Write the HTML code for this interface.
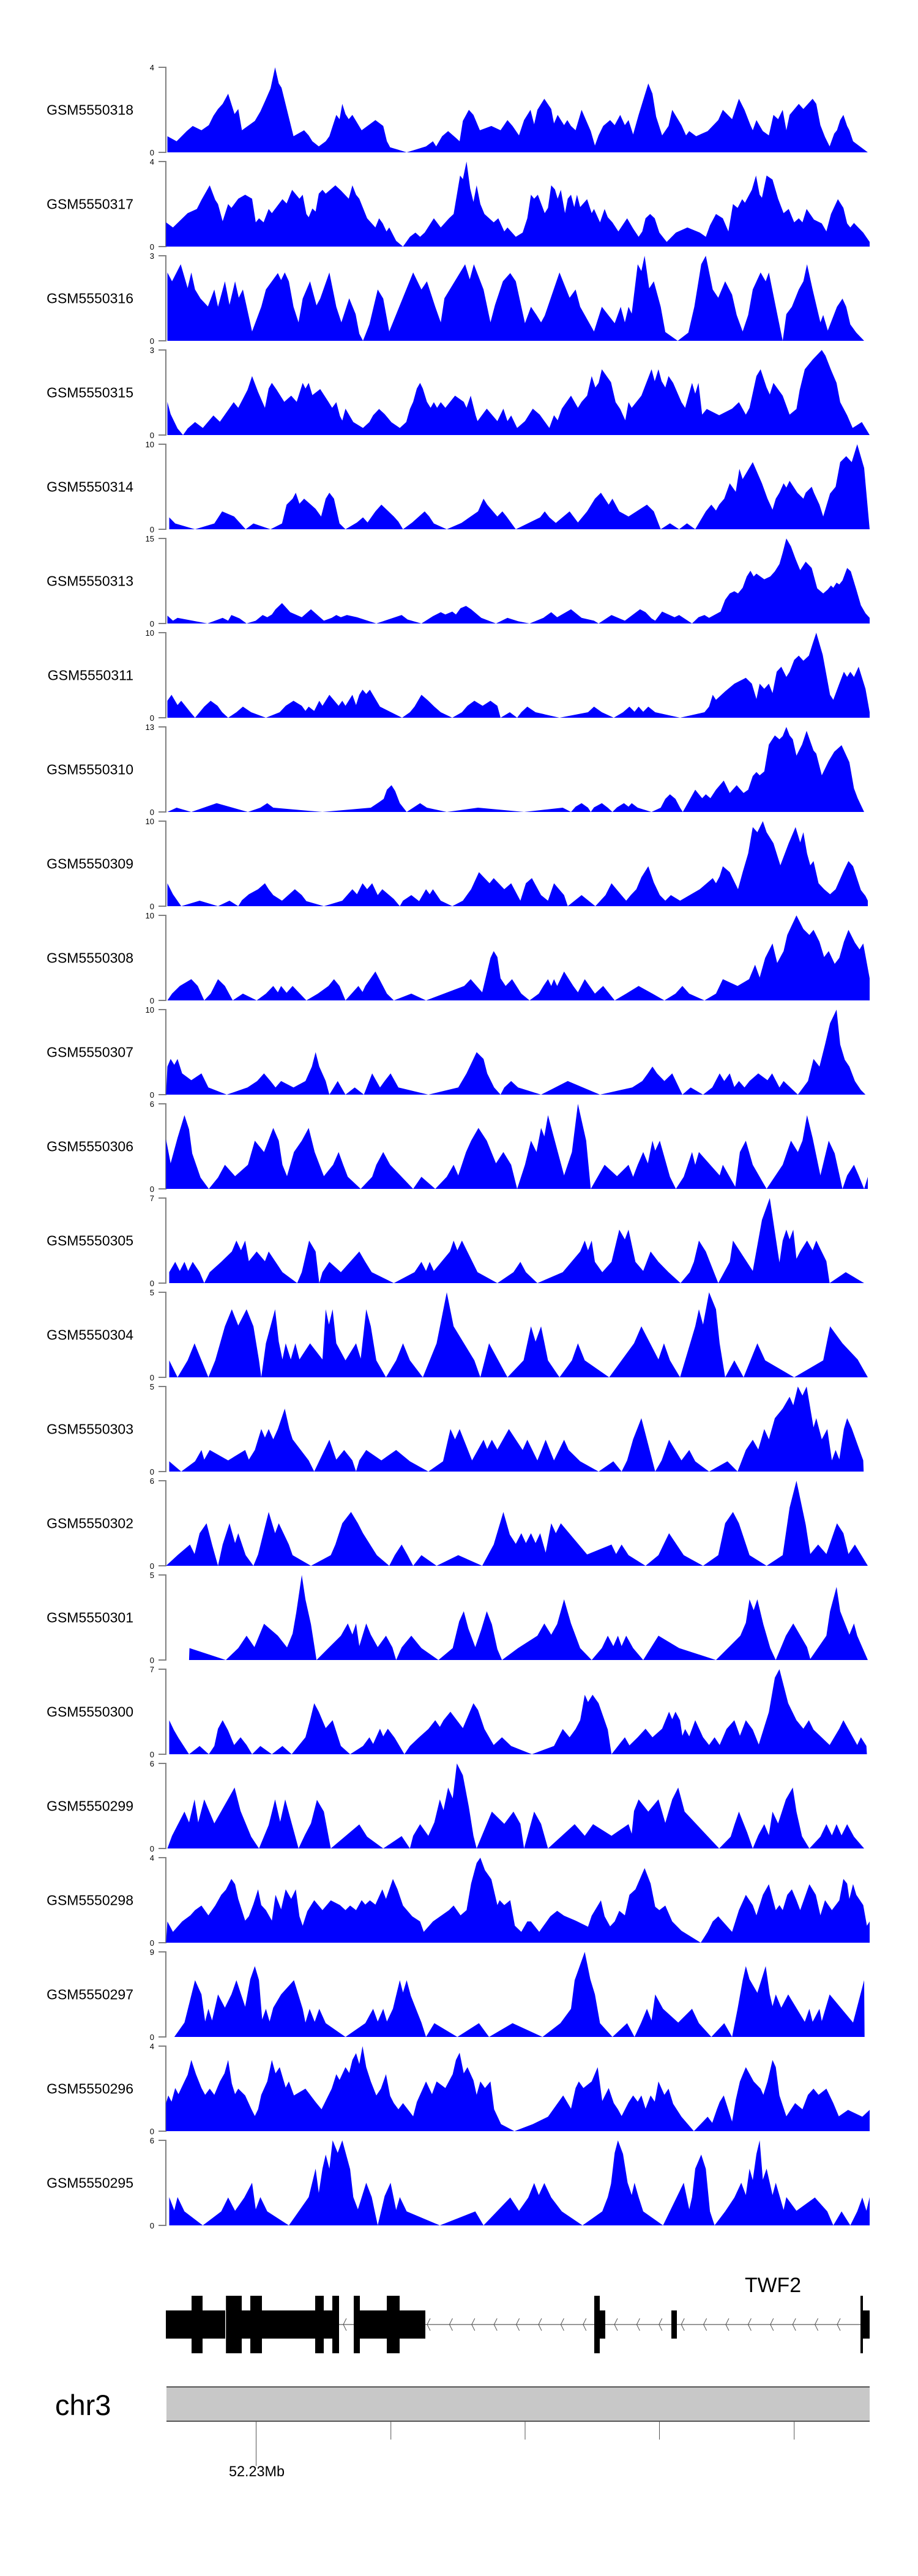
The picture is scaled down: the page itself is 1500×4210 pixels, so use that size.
<!DOCTYPE html>
<html><head><meta charset="utf-8"><title>Coverage tracks - TWF2</title>
<style>
html,body{margin:0;padding:0;background:#fff;}
svg{display:block;font-family:"Liberation Sans",Arial,sans-serif;}
</style></head>
<body>
<svg id="chart" width="1500" height="4210" viewBox="0 0 1500 4210" xmlns="http://www.w3.org/2000/svg">
<rect x="0" y="0" width="1500" height="4210" fill="#fff"/>
<g id="tracks"></g>
<g id="gene"></g>
<g id="ideo"></g>
</svg>
<script>
const sampleNames = ["GSM5550318","GSM5550317","GSM5550316","GSM5550315","GSM5550314","GSM5550313","GSM5550311","GSM5550310","GSM5550309","GSM5550308","GSM5550307","GSM5550306","GSM5550305","GSM5550304","GSM5550303","GSM5550302","GSM5550301","GSM5550300","GSM5550299","GSM5550298","GSM5550297","GSM5550296","GSM5550295"];
const yMaxTicks = [4,4,3,3,10,15,10,13,10,10,10,6,7,5,5,6,5,7,6,4,9,4,6];
const genomicDomain = [0,1544];
const axisTickLabels = ["52.23Mb"];
const geneLabel = "TWF2";
const chromLabel = "chr3";

const t318=[[18,.76],[38,.52],[60,1.0],[73,1.24],[92,1.04],[108,1.28],[118,1.72],[128,2.04],[138,2.28],[150,2.76],[164,1.8],[172,2.04],[180,1.04],[208,1.48],[220,1.92],[230,2.4],[242,3.0],[252,4.0],[260,3.24],[266,3.04],[292,.76],[315,1.04],[325,.8],[333,.52],[347,.28],[362,.52],[370,.76],[385,1.76],[392,1.56],[398,2.28],[405,1.8],[412,1.56],[420,1.76],[440,1.04],[470,1.52],[487,1.24],[495,.52],[502,.24],[520,.12],[538,0],[580,.28],[595,.52],[602,.28],[615,.76],[628,1.0],[645,.68],[653,.52],[660,1.48],[673,2.0],[683,1.76],[697,1.04],[722,1.24],[742,1.04],[757,1.52],[768,1.24],[782,.8],[793,1.52],[807,2.0],[815,1.32],[822,2.0],[837,2.52],[852,2.04],[858,1.36],[866,1.76],[880,1.28],[887,1.52],[895,1.24],[905,1.04],[918,2.0],[938,1.0],[947,.32],[955,.8],[965,1.24],[980,1.52],[990,1.28],[1002,1.76],[1012,1.28],[1020,1.52],[1030,.84],[1042,1.76],[1063,3.24],[1072,2.76],[1080,1.68],[1093,.8],[1107,1.24],[1115,2.0],[1135,1.28],[1145,.8],[1152,1.0],[1167,.76],[1192,1.0],[1215,1.52],[1225,2.0],[1245,1.56],[1260,2.52],[1272,2.0],[1285,1.28],[1290,1.04],[1298,1.52],[1312,1.0],[1325,.8],[1335,1.76],[1345,1.56],[1355,2.0],[1363,1.04],[1370,1.76],[1390,2.28],[1400,2.04],[1420,2.52],[1428,2.28],[1437,1.28],[1447,.72],[1457,.28],[1467,.88],[1473,1.04],[1480,1.52],[1487,1.76],[1495,1.24],[1500,1.04],[1508,.52],[1540,0]];
const t317=[[15,1.14],[30,.9],[62,1.57],[82,1.77],[92,2.2],[110,2.88],[122,2.2],[128,2.0],[138,1.19],[150,2.0],[157,1.82],[172,2.25],[187,2.44],[202,2.25],[210,1.14],[217,1.33],[227,1.14],[238,1.77],[245,1.57],[268,2.23],[277,2.03],[289,2.67],[305,2.25],[312,2.44],[320,1.53],[325,1.38],[333,1.79],[340,1.65],[347,2.49],[355,2.67],[362,2.49],[383,2.88],[395,2.64],[412,2.25],[420,2.88],[428,2.44],[435,2.25],[452,1.33],[470,.9],[478,1.33],[486,1.09],[494,.71],[500,.9],[515,.27],[530,0],[545,.46],[557,.66],[567,.46],[577,.66],[597,1.33],[612,.9],[630,1.33],[640,1.53],[654,3.34],[660,3.17],[668,4.0],[676,2.73],[683,2.1],[690,2.88],[698,2.0],[707,1.53],[727,1.14],[737,1.33],[750,.71],[757,.9],[775,.46],[790,.66],[800,1.33],[808,2.44],[815,2.25],[823,2.44],[838,1.57],[845,1.82],[852,2.88],[860,2.69],[866,2.25],[873,2.67],[882,1.57],[888,2.25],[895,2.44],[902,1.86],[908,2.44],[915,1.86],[930,2.23],[940,1.57],[945,1.77],[958,1.14],[968,1.77],[975,1.38],[985,1.14],[998,.71],[1017,1.33],[1030,.85],[1042,.46],[1050,.71],[1057,1.33],[1067,1.53],[1077,1.33],[1087,.66],[1103,.22],[1123,.66],[1148,.9],[1175,.66],[1188,.46],[1197,1.0],[1210,1.53],[1225,1.33],[1237,.71],[1247,2.0],[1257,1.82],[1267,2.23],[1273,2.06],[1288,2.67],[1297,3.34],[1305,2.44],[1310,2.3],[1320,3.34],[1333,3.15],[1345,2.25],[1357,1.57],[1368,1.77],[1380,1.14],[1390,1.33],[1398,1.14],[1407,1.77],[1423,1.27],[1440,1.09],[1450,.71],[1460,1.53],[1475,2.23],[1487,1.82],[1495,1.09],[1502,.9],[1510,1.11],[1530,.66],[1544,.22]];
const t316=[[18,2.41],[28,2.1],[47,2.7],[62,1.86],[70,2.41],[78,1.81],[90,1.49],[106,1.21],[120,1.81],[128,1.2],[143,2.1],[153,1.27],[165,2.1],[173,1.52],[182,1.81],[202,.33],[222,1.2],[232,1.81],[258,2.39],[265,2.14],[273,2.41],[282,2.1],[292,1.2],[303,.65],[312,1.49],[328,2.1],[342,1.25],[350,1.49],[370,2.41],[385,1.2],[396,.65],[413,1.5],[427,.94],[435,.25],[443,0],[457,.58],[475,1.81],[487,1.49],[500,.33],[552,2.41],[570,1.81],[582,2.1],[600,1.2],[612,.65],[620,1.5],[665,2.7],[675,2.17],[684,2.7],[705,1.81],[720,.65],[730,1.27],[747,2.1],[763,2.39],[775,2.1],[795,.62],[808,1.2],[820,.91],[830,.65],[838,.89],[870,2.41],[892,1.52],[905,1.81],[915,1.2],[945,.33],[962,1.2],[990,.62],[1003,1.2],[1012,.65],[1020,1.2],[1027,.96],[1040,2.7],[1048,2.46],[1055,3.0],[1065,1.85],[1075,2.1],[1090,1.2],[1100,.31],[1127,0],[1150,.29],[1163,1.2],[1178,2.7],[1188,3.0],[1203,1.81],[1215,1.52],[1230,2.1],[1245,1.63],[1255,.91],[1268,.33],[1280,.91],[1290,1.81],[1307,2.41],[1318,2.1],[1325,2.41],[1340,1.2],[1355,0],[1363,.94],[1375,1.2],[1390,1.81],[1400,2.1],[1408,2.7],[1420,1.81],[1437,.65],[1443,.91],[1453,.36],[1473,1.2],[1485,1.49],[1493,1.2],[1502,.58],[1515,.29],[1532,0]];
const t315=[[18,1.17],[25,.74],[40,.23],[52,0],[62,.23],[78,.46],[95,.25],[118,.69],[132,.47],[162,1.16],[172,.96],[192,1.59],[202,2.08],[215,1.52],[230,.96],[238,1.64],[245,1.84],[255,1.61],[272,1.17],[287,1.39],[299,1.17],[312,1.84],[318,1.64],[325,1.84],[333,1.41],[350,1.62],[368,1.17],[376,.96],[385,1.16],[393,.67],[398,.51],[405,.93],[422,.46],[443,.25],[457,.46],[465,.7],[478,.92],[490,.74],[505,.45],[523,.25],[537,.46],[545,.92],[552,1.17],[560,1.64],[567,1.84],[573,1.64],[582,1.17],[590,.96],[597,1.16],[604,.96],[612,1.16],[622,.96],[643,1.39],[662,1.17],[668,.96],[677,1.39],[688,.69],[692,.49],[712,.93],[735,.49],[748,.93],[757,.49],[765,.69],[778,.25],[795,.49],[812,.93],[827,.72],[848,.25],[858,.7],[866,.52],[875,.93],[895,1.39],[910,.96],[918,1.17],[930,1.39],[940,2.08],[948,1.68],[955,1.84],[962,2.32],[982,1.86],[992,1.16],[1002,.92],[1013,.52],[1020,1.16],[1027,.96],[1048,1.39],[1070,2.32],[1077,1.9],[1085,2.32],[1092,1.9],[1100,1.68],[1107,2.08],[1117,1.84],[1135,1.16],[1143,.96],[1158,1.84],[1165,1.46],[1172,1.84],[1180,.72],[1190,.92],[1217,.7],[1245,.93],[1260,1.16],[1275,.72],[1283,.96],[1298,2.08],[1307,2.32],[1320,1.68],[1327,1.43],[1335,1.84],[1355,1.39],[1370,.72],[1385,.92],[1392,1.59],[1403,2.32],[1420,2.66],[1440,3.0],[1448,2.8],[1460,2.3],[1472,1.84],[1480,1.16],[1495,.7],[1507,.25],[1527,.46],[1544,0]];
const t314=[[22,1.4],[35,.68],[78,0],[120,.68],[137,2.1],[163,1.5],[188,0],[205,.68],[242,0],[267,.68],[277,2.9],[290,3.6],[297,4.3],[305,3.0],[315,3.6],[340,2.4],[352,1.5],[362,3.6],[370,4.3],[380,3.6],[392,.68],[405,0],[430,.8],[443,1.4],[453,.8],[470,2.1],[483,2.9],[510,1.5],[520,.9],[530,0],[550,.8],[577,2.1],[587,1.5],[597,.68],[625,0],[657,.75],[693,2.1],[705,3.6],[713,2.9],[735,1.5],[746,2.1],[755,1.5],[775,0],[828,1.4],[838,2.1],[848,1.4],[862,.75],[892,2.1],[910,.8],[930,2.1],[947,3.6],[960,4.3],[977,2.9],[985,3.6],[1000,2.1],[1020,1.5],[1060,2.9],[1075,2.1],[1090,0],[1110,.7],[1130,0],[1147,.7],[1165,0],[1188,2.1],[1200,2.9],[1210,2.2],[1217,2.9],[1228,3.6],[1240,5.4],[1253,4.4],[1261,7.1],[1268,5.9],[1290,7.9],[1310,5.4],[1322,3.6],[1333,2.3],[1340,3.6],[1348,4.3],[1357,5.4],[1363,4.9],[1370,5.7],[1387,4.3],[1400,3.6],[1405,4.3],[1418,5.0],[1423,4.3],[1435,2.9],[1443,1.5],[1458,4.2],[1470,5.0],[1480,7.9],[1493,8.6],[1505,7.9],[1517,10],[1532,7.2],[1544,0]];
const t313=[[18,1.4],[30,.5],[40,1.0],[105,0],[138,1.0],[150,.5],[157,1.5],[175,.9],[190,0],[210,.5],[225,1.5],[235,1.1],[245,1.6],[253,2.5],[267,3.6],[285,2.0],[310,1.1],[330,2.5],[358,.5],[375,1.0],[385,1.5],[395,1.1],[408,1.5],[430,1.1],[472,0],[527,1.5],[540,.7],[570,0],[595,1.3],[612,2.0],[622,1.6],[637,2.1],[645,1.6],[655,2.7],[667,3.1],[678,2.5],[700,1.0],[732,0],[757,1.0],[780,.4],[805,0],[835,1.0],[852,2.0],[865,1.1],[895,2.5],[918,1.0],[945,.5],[955,0],[983,1.5],[1012,.5],[1045,2.5],[1057,2.0],[1070,.9],[1078,.5],[1093,2.1],[1120,1.1],[1130,1.5],[1158,0],[1172,1.1],[1185,1.5],[1195,1.0],[1220,2.1],[1230,4.2],[1240,5.3],[1250,5.7],[1258,5.3],[1268,6.3],[1277,8.3],[1285,9.3],[1292,8.3],[1298,8.8],[1315,7.8],[1328,8.3],[1338,9.2],[1348,10.5],[1355,12.5],[1363,15],[1373,13.6],[1383,11.4],[1393,9.4],[1405,10.9],[1418,9.8],[1430,6.2],[1443,5.3],[1453,6.0],[1460,6.7],[1465,6.3],[1472,7.2],[1478,6.9],[1485,7.6],[1495,9.8],[1503,9.2],[1515,6.0],[1525,3.2],[1535,1.8],[1544,1.0]];
const t311=[[18,2.0],[27,2.7],[40,1.5],[48,2.0],[68,.65],[78,0],[98,1.3],[112,2.0],[127,1.4],[137,.65],[150,0],[168,.65],[182,1.3],[200,.65],[232,0],[262,.65],[275,1.4],[292,2.0],[310,1.4],[318,.8],[325,1.3],[337,.8],[348,2.0],[355,1.4],[370,2.7],[390,1.4],[398,2.0],[405,1.4],[420,2.7],[428,1.5],[435,2.7],[442,3.3],[450,2.8],[458,3.3],[480,1.3],[528,0],[545,.65],[555,1.3],[570,2.7],[585,2.0],[598,1.3],[612,.65],[637,0],[658,.65],[670,1.4],[685,2.0],[703,1.4],[720,2.0],[735,1.4],[742,0],[762,.65],[778,0],[787,.65],[800,1.3],[818,.65],[870,0],[932,.65],[945,1.3],[962,.65],[988,0],[1008,.65],[1022,1.3],[1033,.7],[1042,1.3],[1052,.7],[1063,1.3],[1078,.65],[1132,0],[1185,.65],[1195,1.3],[1203,2.7],[1210,2.1],[1230,3.1],[1250,4.0],[1275,4.7],[1288,4.0],[1298,2.2],[1305,4.0],[1315,3.4],[1325,4.0],[1333,2.9],[1342,5.4],[1352,6.0],[1363,4.8],[1370,5.4],[1380,6.8],[1390,7.3],[1400,6.7],[1412,7.3],[1420,8.7],[1428,10],[1442,7.4],[1458,2.7],[1465,2.1],[1478,4.0],[1488,5.4],[1495,4.8],[1502,5.4],[1510,4.8],[1520,6.0],[1535,3.4],[1544,.65]];
const t310=[[18,0],[38,.65],[70,0],[125,1.35],[193,0],[220,.65],[235,1.35],[248,.65],[355,0],[460,.65],[478,1.5],[488,2.0],[495,3.4],[505,4.1],[513,3.2],[523,1.35],[538,0],[567,1.35],[582,.65],[625,0],[693,.65],[793,0],[877,.65],[895,0],[905,.8],[918,1.35],[932,.65],[938,0],[945,.7],[962,1.35],[975,.65],[985,0],[995,.7],[1010,1.35],[1020,.8],[1027,1.35],[1040,.65],[1070,0],[1090,.65],[1100,2.0],[1110,2.7],[1122,2.0],[1132,.65],[1138,0],[1165,3.4],[1180,2.1],[1188,2.7],[1198,2.1],[1210,3.4],[1227,4.8],[1240,2.9],[1255,4.1],[1270,2.9],[1280,3.4],[1290,5.5],[1298,6.1],[1305,5.6],[1315,6.2],[1325,10.3],[1338,11.7],[1348,11.1],[1355,11.6],[1363,13],[1370,11.7],[1377,11.1],[1385,8.6],[1397,10.3],[1407,12.4],[1422,9.4],[1428,8.9],[1440,5.6],[1455,7.8],[1467,9.2],[1483,10.2],[1500,7.6],[1510,3.6],[1518,2.1],[1532,0]];
const t309=[[18,2.7],[30,1.4],[48,0],[88,.65],[128,0],[153,.65],[172,0],[180,.7],[195,1.4],[215,2.0],[230,2.7],[238,2.0],[248,1.3],[267,.65],[295,2.0],[310,1.3],[320,.6],[358,0],[398,.65],[420,2.0],[430,1.4],[442,2.7],[452,2.0],[463,2.7],[475,1.3],[485,2.0],[510,.85],[523,0],[530,.65],[548,1.3],[565,.6],[580,2.0],[588,1.4],[595,2.0],[612,.65],[637,0],[660,.65],[678,2.0],[695,4.0],[718,2.7],[727,3.3],[750,2.0],[765,2.7],[785,.65],[797,2.7],[810,3.3],[830,1.3],[845,.65],[858,2.7],[880,1.3],[888,0],[918,1.3],[948,0],[970,1.3],[983,2.7],[1003,1.4],[1015,.65],[1025,1.3],[1037,2.0],[1048,3.4],[1063,4.7],[1075,2.8],[1088,1.3],[1100,.65],[1112,1.3],[1132,.65],[1175,2.0],[1203,3.3],[1210,2.7],[1218,3.5],[1225,4.7],[1240,4.0],[1258,2.0],[1268,4.0],[1280,6.2],[1290,9.3],[1300,8.7],[1312,10],[1320,8.7],[1335,7.4],[1350,4.8],[1368,7.4],[1383,9.3],[1393,7.5],[1400,8.7],[1408,6.2],[1415,4.8],[1422,5.3],[1433,2.7],[1445,2.0],[1458,1.4],[1470,2.0],[1488,4.2],[1498,5.3],[1508,4.7],[1525,1.9],[1535,1.2],[1540,.65]];
const t308=[[18,0],[28,.8],[45,1.7],[70,2.5],[84,1.7],[98,0],[112,.8],[128,2.5],[143,1.7],[160,0],[182,.8],[212,0],[232,.8],[248,1.7],[258,.95],[265,1.7],[277,.9],[290,1.7],[320,0],[345,.8],[368,1.7],[380,2.5],[392,1.7],[405,0],[433,1.7],[442,1.0],[448,1.7],[470,3.4],[495,.8],[510,0],[548,.8],[580,0],[663,1.7],[677,2.5],[690,1.7],[702,.95],[720,5.0],[727,5.8],[735,5.1],[742,2.6],[753,1.7],[767,2.5],[787,.8],[805,0],[825,.8],[835,1.7],[845,2.5],[852,1.7],[858,2.5],[865,1.7],[880,3.4],[900,1.7],[910,.95],[925,2.5],[947,.8],[965,1.7],[990,0],[1015,.8],[1042,1.7],[1072,.8],[1098,0],[1122,.8],[1137,1.7],[1152,.8],[1185,0],[1210,.8],[1225,2.5],[1257,1.7],[1282,2.5],[1295,4.2],[1305,2.7],[1317,5.0],[1333,6.7],[1343,4.4],[1357,5.8],[1365,7.7],[1385,10],[1400,8.4],[1413,7.7],[1422,8.3],[1435,6.9],[1445,5.1],[1455,5.8],[1468,4.3],[1478,5.0],[1488,6.9],[1498,8.3],[1512,6.8],[1522,6.0],[1530,6.7],[1544,2.6]];
const t307=[[15,0],[18,3.3],[25,4.2],[33,3.5],[40,4.2],[50,2.5],[70,1.7],[92,2.5],[107,.85],[147,0],[192,.85],[213,1.6],[228,2.5],[242,1.6],[253,.85],[265,1.6],[292,.85],[318,1.6],[332,3.3],[340,5.0],[348,3.3],[362,1.6],[370,0],[388,1.6],[405,0],[425,.85],[445,0],[463,2.5],[480,.85],[490,1.6],[503,2.5],[520,.85],[585,0],[650,.85],[668,2.5],[690,5.0],[705,4.2],[713,2.5],[728,.85],[742,0],[750,.85],[765,1.6],[780,.85],[830,0],[888,1.6],[958,0],[1028,.85],[1050,1.6],[1062,2.5],[1072,3.3],[1082,2.5],[1098,1.6],[1115,2.5],[1137,0],[1155,.85],[1182,0],[1202,.85],[1218,2.5],[1228,1.6],[1240,2.5],[1250,.9],[1260,1.6],[1272,.85],[1283,1.6],[1302,2.5],[1322,1.7],[1332,2.5],[1348,.85],[1357,1.6],[1388,0],[1410,1.6],[1422,4.2],[1435,3.3],[1447,5.9],[1458,8.4],[1472,10],[1480,5.9],[1490,4.1],[1500,3.3],[1512,1.6],[1525,.55],[1535,0]];
const t306=[[15,3.5],[25,1.8],[40,3.6],[55,5.2],[65,4.2],[72,2.5],[90,.8],[108,0],[128,.8],[143,1.7],[165,.9],[193,1.7],[208,3.4],[228,2.6],[248,4.3],[260,3.4],[268,1.7],[278,.9],[293,2.6],[310,3.4],[325,4.3],[338,2.6],[358,.9],[378,1.7],[390,2.6],[400,1.7],[410,.85],[438,0],[463,.85],[472,1.7],[487,2.6],[502,1.7],[552,0],[570,.85],[600,0],[625,.85],[640,1.7],[650,.95],[667,2.6],[678,3.4],[694,4.3],[712,3.4],[732,1.8],[748,2.6],[765,1.7],[778,0],[795,1.7],[808,3.4],[820,2.6],[830,4.3],[837,3.7],[845,5.2],[880,.95],[897,2.6],[910,6],[928,3.4],[938,0],[968,1.7],[995,.9],[1020,1.7],[1030,.85],[1040,1.7],[1052,2.6],[1062,1.8],[1072,3.4],[1078,2.7],[1088,3.4],[1110,.85],[1123,0],[1140,.85],[1158,2.6],[1165,1.7],[1173,2.6],[1218,.95],[1225,1.7],[1252,.15],[1262,2.6],[1275,3.4],[1290,1.7],[1320,0],[1355,1.7],[1373,3.4],[1388,2.6],[1398,3.4],[1408,5.2],[1420,3.6],[1437,.95],[1455,3.4],[1468,2.5],[1485,0],[1495,.95],[1510,1.7],[1520,.95],[1532,0],[1540,.85]];
const t305=[[22,.9],[35,1.75],[45,1.0],[55,1.75],[63,1.0],[73,1.75],[88,.9],[98,0],[110,.9],[135,1.75],[158,2.6],[168,3.5],[178,2.7],[187,3.5],[195,1.8],[212,2.6],[230,1.8],[238,2.6],[268,.9],[300,0],[310,.9],[326,3.5],[340,2.6],[348,0],[355,.9],[370,1.75],[395,.9],[435,2.6],[448,1.75],[462,.9],[510,0],[555,.9],[570,1.75],[580,1.0],[588,1.75],[597,1.0],[632,2.6],[640,3.5],[648,2.7],[658,3.5],[692,.9],[735,0],[770,.9],[785,1.75],[797,.9],[822,0],[877,.9],[915,2.6],[925,3.5],[932,2.7],[940,3.5],[947,1.75],[963,.9],[983,1.75],[1000,4.4],[1012,3.6],[1020,4.4],[1035,1.75],[1052,1.0],[1068,2.6],[1085,1.75],[1107,.9],[1133,0],[1153,.9],[1162,1.75],[1173,3.5],[1188,2.6],[1215,0],[1240,1.75],[1247,3.5],[1290,1.0],[1310,5.2],[1327,7],[1348,1.7],[1355,3.5],[1363,4.4],[1370,3.6],[1378,4.4],[1385,2.0],[1393,2.6],[1408,3.5],[1420,2.7],[1428,3.5],[1450,1.8],[1457,0],[1492,.9],[1532,0]];
const t304=[[22,1.0],[40,0],[62,1.0],[77,2.0],[107,0],[122,1.0],[143,3.0],[158,4.0],[172,3.05],[190,4.0],[205,3.0],[217,1.0],[222,0],[232,2.0],[252,4.0],[260,2.1],[268,1.05],[275,2.0],[286,1.05],[296,2.0],[305,1.05],[328,2.0],[355,1.05],[362,4.0],[369,3.1],[377,4.0],[385,2.0],[405,1.0],[428,2.0],[438,1.1],[450,4.0],[460,3.0],[472,1.0],[493,0],[515,1.0],[530,2.0],[545,1.0],[573,0],[603,2.0],[625,5.0],[640,3.0],[685,1.0],[698,0],[717,2.0],[757,0],[792,1.0],[808,3.0],[818,2.1],[830,3.0],[845,1.0],[870,0],[897,1.0],[910,2.0],[925,1.0],[978,0],[1032,2.0],[1048,3.0],[1085,1.05],[1097,2.0],[1110,1.0],[1132,0],[1165,3.0],[1173,4.0],[1182,3.1],[1195,5.0],[1210,4.0],[1218,2.0],[1230,0],[1250,1.0],[1270,0],[1300,2.0],[1317,1.0],[1380,0],[1443,1.0],[1458,3.0],[1485,2.0],[1518,1.05],[1540,0]];
const t303=[[22,.6],[48,0],[78,.6],[92,1.27],[98,.7],[110,1.27],[150,.66],[187,1.27],[195,.7],[208,1.27],[222,2.5],[230,2.0],[238,2.5],[248,1.9],[258,2.5],[273,3.7],[283,2.5],[290,1.9],[325,.66],[337,0],[370,1.87],[385,.7],[402,1.27],[420,.66],[428,0],[435,.66],[450,1.27],[483,.66],[515,1.27],[545,.6],[585,0],[617,.6],[633,2.5],[643,1.9],[653,2.5],[680,.66],[705,1.87],[713,1.33],[723,1.87],[735,1.3],[760,2.5],[790,1.27],[800,1.87],[822,.66],[840,1.87],[858,.66],[880,1.87],[890,1.27],[915,.6],[955,0],[987,.6],[1005,0],[1017,.66],[1030,1.9],[1048,3.14],[1078,0],[1092,.66],[1108,1.87],[1135,.66],[1152,1.27],[1165,.6],[1195,0],[1235,.6],[1257,0],[1275,1.27],[1290,1.87],[1302,1.3],[1315,2.5],[1325,1.9],[1338,3.14],[1355,3.7],[1370,4.4],[1378,3.9],[1388,5.0],[1398,4.47],[1407,5.0],[1422,2.6],[1428,3.14],[1440,1.9],[1452,2.5],[1462,.66],[1470,1.27],[1478,.72],[1488,2.5],[1495,3.14],[1505,2.54],[1530,.66],[1531,0]];
const t302=[[15,0],[40,.75],[67,1.5],[77,.83],[88,2.3],[103,3.0],[115,1.5],[128,0],[138,1.5],[153,3.0],[165,1.6],[172,2.3],[188,.75],[205,0],[215,.8],[238,3.8],[252,2.3],[260,3.0],[282,1.5],[290,.75],[330,0],[373,.75],[383,1.5],[398,3.0],[417,3.8],[432,3.0],[443,2.3],[473,.75],[500,0],[512,.75],[527,1.5],[540,.75],[552,0],[570,.75],[603,0],[650,.75],[702,0],[727,1.5],[748,3.8],[762,2.2],[775,1.55],[787,2.3],[797,1.6],[808,2.3],[818,1.6],[828,2.3],[840,.93],[852,3.0],[862,2.3],[873,3.0],[930,.8],[983,1.5],[993,.83],[1005,1.5],[1020,.75],[1057,0],[1085,.75],[1108,2.3],[1140,.75],[1182,0],[1215,.75],[1230,3.0],[1247,3.8],[1260,3.0],[1283,.75],[1320,0],[1355,.75],[1370,4.1],[1385,6],[1405,2.9],[1415,.83],[1432,1.5],[1450,.83],[1473,3.0],[1487,2.3],[1498,.83],[1512,1.5],[1540,0]];
const t301=[[65,0],[66,.7],[145,0],[172,.7],[190,1.43],[207,.76],[228,2.13],[258,1.43],[278,.74],[290,1.55],[298,2.8],[310,5.0],[318,3.56],[330,2.1],[342,0],[370,.76],[395,1.43],[410,2.15],[420,1.5],[428,2.15],[435,.82],[450,2.15],[460,1.49],[475,.76],[493,1.43],[507,.74],[515,0],[527,.74],[548,1.43],[570,.7],[607,0],[638,.7],[652,2.27],[662,2.87],[672,1.85],[687,.76],[700,1.79],[712,2.87],[723,2.1],[735,.64],[745,0],[780,.7],[822,1.43],[837,2.15],[852,1.49],[865,2.11],[880,3.57],[895,2.15],[915,.7],[940,0],[962,.7],[975,1.43],[987,.82],[997,1.43],[1005,.82],[1015,1.43],[1030,.7],[1052,0],[1085,1.43],[1130,.7],[1210,0],[1263,1.43],[1275,2.19],[1283,3.57],[1292,2.93],[1300,3.57],[1313,2.1],[1328,.7],[1340,0],[1362,1.43],[1378,2.15],[1408,.76],[1415,.06],[1450,1.43],[1458,2.87],[1472,4.3],[1480,2.87],[1500,1.49],[1510,2.15],[1517,1.43],[1540,0]];
const t300=[[22,2.8],[32,2.0],[42,1.35],[65,0],[88,.68],[108,0],[120,.68],[128,2.1],[138,2.8],[150,1.95],[163,.76],[177,1.4],[190,.76],[202,0],[220,.68],[245,0],[268,.68],[288,0],[318,1.4],[328,2.8],[337,4.2],[347,3.5],[362,2.15],[377,2.8],[395,.68],[415,0],[443,.68],[457,1.4],[465,.85],[480,2.1],[487,1.47],[497,2.1],[512,1.35],[533,0],[545,.68],[565,1.4],[585,2.08],[600,2.8],[610,2.25],[618,2.8],[633,3.5],[660,2.15],[683,4.2],[693,3.64],[707,2.08],[727,.76],[745,1.4],[765,.68],[810,0],[858,.68],[877,2.08],[892,1.4],[905,2.08],[915,2.8],[925,4.9],[932,4.3],[942,4.9],[955,4.2],[975,2.03],[983,0],[1012,1.4],[1022,.73],[1040,1.4],[1057,2.1],[1072,1.4],[1093,2.1],[1108,3.5],[1115,2.88],[1122,3.5],[1132,2.8],[1137,1.52],[1143,2.08],[1152,1.47],[1165,2.8],[1182,1.4],[1195,.76],[1207,1.4],[1218,.76],[1233,2.08],[1250,2.8],[1262,1.52],[1275,2.8],[1290,2.03],[1303,.8],[1325,3.47],[1338,6.3],[1348,7],[1357,5.67],[1367,4.2],[1385,2.8],[1400,2.1],[1412,2.8],[1422,2.03],[1457,.76],[1478,2.1],[1487,2.8],[1517,.76],[1525,1.4],[1537,.68],[1538,0]];
const t299=[[18,0],[28,.9],[55,2.6],[65,1.84],[77,3.46],[85,1.84],[98,3.46],[120,1.77],[164,4.3],[177,2.64],[200,.83],[217,0],[238,1.65],[252,3.46],[263,1.88],[274,3.46],[303,0],[317,.97],[330,1.77],[343,3.43],[358,2.6],[373,0],[435,1.7],[452,.83],[487,0],[527,.87],[545,0],[552,.9],[567,1.72],[585,.9],[598,1.84],[610,3.46],[618,2.7],[628,4.3],[638,3.54],[647,6],[660,5.17],[673,2.93],[683,.9],[690,0],[723,2.6],[750,1.74],[770,2.6],[785,1.74],[793,0],[815,2.6],[830,1.74],[845,0],[903,1.72],[925,.9],[943,1.72],[983,.9],[1020,1.72],[1027,1.04],[1032,2.64],[1042,3.46],[1063,2.6],[1085,3.46],[1100,1.8],[1115,3.46],[1128,4.3],[1142,2.6],[1217,0],[1242,.83],[1250,1.65],[1260,2.6],[1278,1.12],[1290,0],[1302,.93],[1315,1.72],[1325,.94],[1333,2.6],[1345,1.77],[1362,3.46],[1377,4.3],[1385,2.6],[1397,.86],[1413,0],[1437,.83],[1450,1.72],[1462,.93],[1472,1.72],[1483,.93],[1495,1.72],[1510,.83],[1532,0]];
const t298=[[15,0],[18,1.0],[30,.51],[50,1.0],[68,1.29],[78,1.53],[92,1.75],[107,1.29],[122,1.75],[135,2.25],[145,2.49],[157,3.0],[165,2.75],[172,2.06],[187,1.04],[195,1.24],[205,1.82],[215,2.51],[222,1.77],[232,1.53],[245,1.04],[253,2.25],[265,1.57],[275,2.51],[287,2.06],[297,2.51],[305,1.24],[312,.8],[322,1.48],[337,2.0],[355,1.53],[373,1.99],[393,1.77],[405,1.53],[415,1.75],[428,1.53],[440,2.0],[448,1.79],[458,1.99],[470,1.79],[485,2.51],[493,2.06],[508,3.0],[518,2.51],[530,1.75],[550,1.24],[567,1.0],[575,.51],[595,1.0],[630,1.53],[640,1.75],[655,1.29],[668,1.53],[678,2.78],[690,3.75],[698,4.0],[708,3.41],[722,2.98],[735,1.77],[740,2.0],[750,1.77],[763,2.0],[773,.8],[787,.51],[800,1.0],[808,1.0],[826,.51],[850,1.24],[865,1.5],[880,1.27],[905,1.04],[932,.75],[940,1.27],[960,1.99],[968,1.24],[980,.77],[990,1.0],[1000,1.5],[1012,1.29],[1022,2.25],[1035,2.51],[1055,3.51],[1068,2.78],[1078,1.69],[1087,1.53],[1100,1.75],[1115,1.0],[1135,.56],[1177,0],[1192,.51],[1203,1.0],[1215,1.24],[1245,.51],[1260,1.53],[1275,2.25],[1290,1.77],[1298,1.29],[1312,2.25],[1325,2.75],[1340,1.53],[1348,1.77],[1355,1.53],[1365,2.25],[1375,2.51],[1385,2.0],[1393,1.53],[1413,2.75],[1427,2.25],[1437,1.29],[1447,2.0],[1462,1.53],[1478,1.99],[1487,3.0],[1495,2.78],[1500,2.06],[1508,2.76],[1515,2.25],[1530,1.77],[1538,.8],[1544,1.0]];
const t297=[[33,0],[55,1.52],[78,6.0],[92,4.5],[100,1.63],[107,2.98],[115,1.74],[128,4.5],[143,3.1],[157,4.5],[168,6.0],[187,3.2],[198,6.1],[208,7.5],[217,6.0],[224,1.85],[232,2.98],[240,1.63],[248,3.1],[265,4.5],[293,6.0],[312,2.98],[318,1.52],[327,2.98],[338,1.6],[348,2.98],[362,1.46],[405,0],[448,1.46],[465,2.98],[475,1.63],[487,2.98],[495,1.63],[508,2.98],[523,6.0],[530,4.7],[538,6.0],[547,4.35],[562,2.5],[570,1.52],[580,0],[598,1.46],[648,0],[695,1.46],[717,0],[768,1.46],[833,0],[872,1.46],[895,2.98],[903,6.0],[925,9],[937,6.1],[947,4.5],[958,1.46],[985,0],[1017,1.46],[1033,0],[1047,1.46],[1060,2.98],[1070,1.74],[1078,4.5],[1095,2.98],[1128,1.52],[1158,2.98],[1173,1.46],[1200,0],[1228,1.46],[1245,0],[1257,2.98],[1268,6.0],[1275,7.5],[1283,6.1],[1300,4.67],[1318,7.5],[1327,4.5],[1333,3.26],[1340,4.5],[1352,3.1],[1367,4.5],[1403,1.6],[1413,2.98],[1420,1.6],[1435,2.98],[1440,1.67],[1457,4.5],[1508,1.52],[1532,6.0],[1533,0]];
const t296=[[15,1.32],[20,1.68],[27,1.39],[35,2.03],[42,1.74],[55,2.34],[62,2.65],[70,3.35],[80,2.68],[92,2.03],[100,1.71],[110,2.0],[120,1.71],[132,2.34],[142,2.72],[150,3.35],[158,2.24],[165,1.74],[172,2.0],[187,1.68],[200,1.06],[208,.71],[215,1.03],[222,1.71],[235,2.34],[245,3.35],[253,2.72],[262,3.01],[275,2.05],[282,2.34],[293,1.68],[318,2.0],[340,1.37],[353,1.03],[375,2.0],[385,2.68],[392,2.41],[405,3.01],[413,2.74],[420,3.35],[428,3.67],[435,3.16],[442,4.0],[450,3.01],[460,2.34],[472,1.68],[482,2.0],[493,2.68],[502,1.66],[510,1.32],[520,1.03],[530,1.32],[552,.7],[560,1.37],[580,2.34],[593,1.74],[603,2.34],[622,2.03],[638,2.68],[645,3.35],[653,3.69],[662,2.72],[670,3.01],[683,2.39],[690,1.71],[698,2.34],[708,2.03],[720,2.34],[728,1.03],[743,.33],[772,0],[812,.33],[845,.68],[878,1.68],[895,1.06],[905,2.03],[912,2.34],[922,2.03],[940,2.34],[953,3.01],[963,1.42],[977,2.03],[988,1.32],[997,1.03],[1005,.71],[1020,1.35],[1030,1.68],[1040,1.39],[1048,1.68],[1057,1.06],[1068,1.68],[1077,1.39],[1085,2.34],[1098,1.71],[1107,2.0],[1117,1.29],[1135,.68],[1162,0],[1192,.68],[1202,.39],[1212,1.03],[1218,1.37],[1227,1.68],[1245,.45],[1253,1.47],[1262,2.34],[1275,3.01],[1292,2.34],[1307,2.0],[1313,1.71],[1322,2.34],[1333,3.35],[1340,3.01],[1348,1.68],[1363,.7],[1382,1.32],[1398,1.03],[1410,1.71],[1422,2.0],[1433,1.71],[1450,2.0],[1465,1.32],[1477,.7],[1497,1.0],[1528,.68],[1544,1.0]];
const t295=[[22,2.0],[33,1.06],[40,2.0],[55,.99],[95,0],[135,.99],[150,1.97],[165,1.03],[185,1.96],[202,3.01],[210,1.13],[220,2.0],[235,.99],[282,0],[325,2.0],[340,4.0],[347,2.29],[355,4.0],[362,5.0],[370,4.0],[377,6.0],[388,5.12],[398,6.0],[415,3.96],[422,2.0],[432,1.13],[450,3.01],[462,2.0],[475,0],[490,2.07],[503,3.01],[515,1.09],[523,2.0],[538,.99],[610,0],[687,.99],[705,0],[763,1.97],[782,1.03],[802,1.96],[815,2.99],[825,2.14],[837,2.99],[852,1.97],[875,.99],[920,0],[963,.99],[975,2.0],[982,2.94],[990,5.12],[997,6.0],[1008,5.04],[1018,3.01],[1027,2.14],[1033,3.01],[1042,2.0],[1052,.99],[1095,0],[1140,3.01],[1152,1.13],[1158,2.0],[1165,4.0],[1178,5.0],[1188,3.99],[1197,.99],[1207,0],[1230,.99],[1250,1.96],[1265,3.01],[1275,2.14],[1283,4.0],[1290,3.2],[1298,5.04],[1305,6.0],[1312,3.23],[1320,4.0],[1333,2.14],[1340,3.01],[1357,1.09],[1363,2.0],[1385,1.03],[1425,1.97],[1452,.99],[1465,0],[1483,.99],[1502,0],[1517,.99],[1528,1.97],[1537,1.03],[1544,2.0]];

const trackSeries=[t318,t317,t316,t315,t314,t313,t311,t310,t309,t308,t307,t306,t305,t304,t303,t302,t301,t300,t299,t298,t297,t296,t295];

// gene model (exon spans along figure x axis)
const exonThick=[[313,331],[369,395],[409,428],[515,529],[543,554],[578,588],[632,653],[971,980],[1406,1410]];
const exonBox=[[271,554],[578,695],[971,989],[1097,1106],[1406,1421]];
const axisTickPositions=[418.5,638.7,858,1077.5,1297.7];

const NS="http://www.w3.org/2000/svg";
function mk(tag,attrs,parent){const e=document.createElementNS(NS,tag);for(const k in attrs)e.setAttribute(k,attrs[k]);parent.appendChild(e);return e;}
const X0=260,X1=1421;
function xScale(p){return X0+(p-genomicDomain[0])/(genomicDomain[1]-genomicDomain[0])*(X1-X0);}
const TOP0=110,STEP=154,PH=139;

const tracksG=document.getElementById('tracks');
trackSeries.forEach((series,i)=>{
  const top=TOP0+STEP*i,bot=top+PH,ymax=yMaxTicks[i];
  const yScale=v=>bot-v/ymax*PH;
  const g=mk('g',{},tracksG);
  
  
  const lab=mk('text',{x:218,y:top+PH/2+8,'text-anchor':'end','font-size':23,fill:'#000'},g);
  lab.textContent=sampleNames[i];
  
  
  const ax=mk('path',{d:`M259 ${top}H271V${bot}H259`,fill:'none',stroke:'#808080','stroke-width':2},g);
  
  
  const tt=mk('text',{x:252,y:top+5,'text-anchor':'end','font-size':13,fill:'#000'},g);
  tt.textContent=String(ymax);
  
  
  const tb=mk('text',{x:252,y:bot+5,'text-anchor':'end','font-size':13,fill:'#000'},g);
  tb.textContent='0';
  
  
  let d=`M${xScale(series[0][0]).toFixed(1)} ${bot}`;
  series.forEach(([p,v])=>{d+=`L${xScale(p).toFixed(1)} ${yScale(v).toFixed(1)}`;});
  d+=`L${xScale(series[series.length-1][0]).toFixed(1)} ${bot}Z`;
  const area=mk('path',{d:d,fill:'#0000ff',stroke:'none'},g);
  
  
});

// gene
const geneG=document.getElementById('gene');
const il=mk('line',{x1:554,y1:3799,x2:1406,y2:3799,stroke:'#999','stroke-width':2},geneG);


function chevron(x){const c=mk('path',{d:`M${x+5} 3789L${x} 3799L${x+5} 3809`,fill:'none',stroke:'#555','stroke-width':1},geneG);}
chevron(561);
for(let x=698;x<968;x+=36.4)chevron(x);
for(let x=1004;x<1400;x+=36.4){if(Math.abs(x-1100)<10)continue;chevron(x);}
exonBox.forEach(([a,b])=>{const r=mk('rect',{x:a,y:3776,width:b-a,height:46,fill:'#000'},geneG);});
exonThick.forEach(([a,b])=>{const r=mk('rect',{x:a,y:3752,width:b-a,height:94,fill:'#000'},geneG);});
{const s=mk('rect',{x:368,y:3752,width:1.2,height:94,fill:'#fff'},geneG);}
{const gl=mk('text',{x:1217,y:3746,'font-size':34,textLength:92,lengthAdjust:'spacingAndGlyphs',fill:'#000'},geneG);gl.textContent=geneLabel;}

// chromosome axis
const ideoG=document.getElementById('ideo');
{const r=mk('rect',{x:272,y:3901,width:1149,height:56,fill:'#c8c8c8'},ideoG);}
{const l=mk('line',{x1:272,y1:3901,x2:1421,y2:3901,stroke:'#555','stroke-width':2},ideoG);}
{const l=mk('line',{x1:272,y1:3957,x2:1421,y2:3957,stroke:'#555','stroke-width':2},ideoG);}
axisTickPositions.forEach((x,i)=>{const l=mk('line',{x1:x,y1:3957,x2:x,y2:i===0?4030:3987,stroke:'#555','stroke-width':1},ideoG);});
{const t=mk('text',{x:374,y:4047,'font-size':24,textLength:91,lengthAdjust:'spacingAndGlyphs',fill:'#000'},ideoG);t.textContent=axisTickLabels[0];}
{const t=mk('text',{x:90,y:3947,'font-size':47,fill:'#000'},ideoG);t.textContent=chromLabel;}
</script>
</body></html>
